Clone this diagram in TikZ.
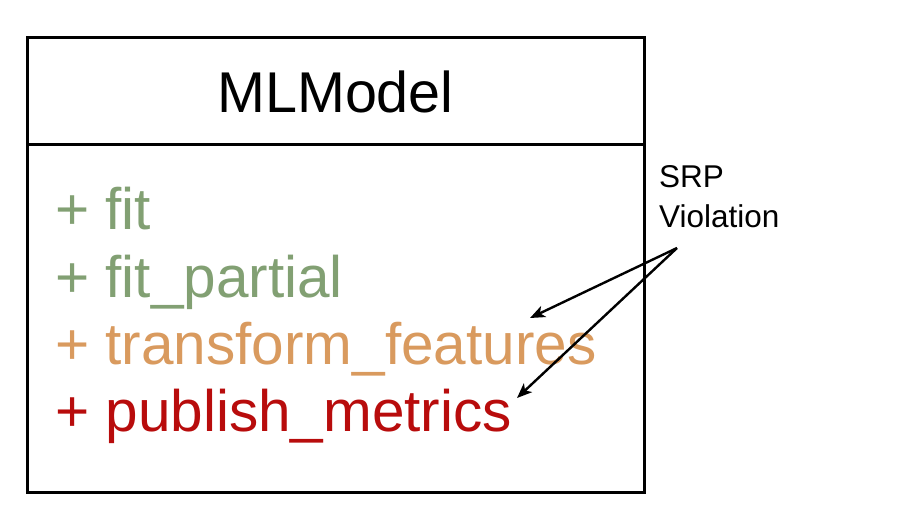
\documentclass[tikz,border=0pt]{standalone}
\usepackage{fontspec}
\setmainfont{Liberation Sans}
\usetikzlibrary{arrows.meta}
\definecolor{fitgreen}{RGB}{130,160,115}
\definecolor{tforange}{RGB}{217,154,94}
\definecolor{pubred}{RGB}{184,12,12}
\tikzset{
  member/.style={anchor=base west,inner sep=0pt,font=\fontsize{58.5}{58.5}\selectfont},
  note/.style={anchor=base west,inner sep=0pt,font=\fontsize{31.5}{40}\selectfont,align=left},
  pointer/.style={line width=2.4pt,-{Stealth[length=15pt,width=12pt,inset=4pt]}},
  frame/.style={line width=3pt}
}
\begin{document}
\begin{tikzpicture}[x=1pt,y=-1pt]
\useasboundingbox (0,0) rectangle (900,504);
\fill[white] (0,0) rectangle (900,504);
\draw[frame] (27,37) rectangle (644,492);
\draw[frame] (27,144) -- (644,144);
\node[anchor=base,inner sep=0pt,font=\fontsize{57.5}{57.5}\selectfont] (title) at (335.5,112) {MLModel};
\node[member,text=fitgreen] (fit) at (55,229) {+ fit};
\node[member,text=fitgreen] (fitp) at (55,297) {+ fit\_partial};
\node[member,text=tforange] (tf) at (55,364) {+ transform\_features};
\node[member,text=pubred] (pub) at (55,431) {+ publish\_metrics};
\node[note] (srp) at (659,227) {SRP\\Violation};
\coordinate (src) at (677,248);
\coordinate (tfend) at (530,318);
\coordinate (pubend) at (517,398);
\draw[pointer] (src) -- (tfend);
\draw[pointer] (src) -- (pubend);
\end{tikzpicture}
\end{document}
